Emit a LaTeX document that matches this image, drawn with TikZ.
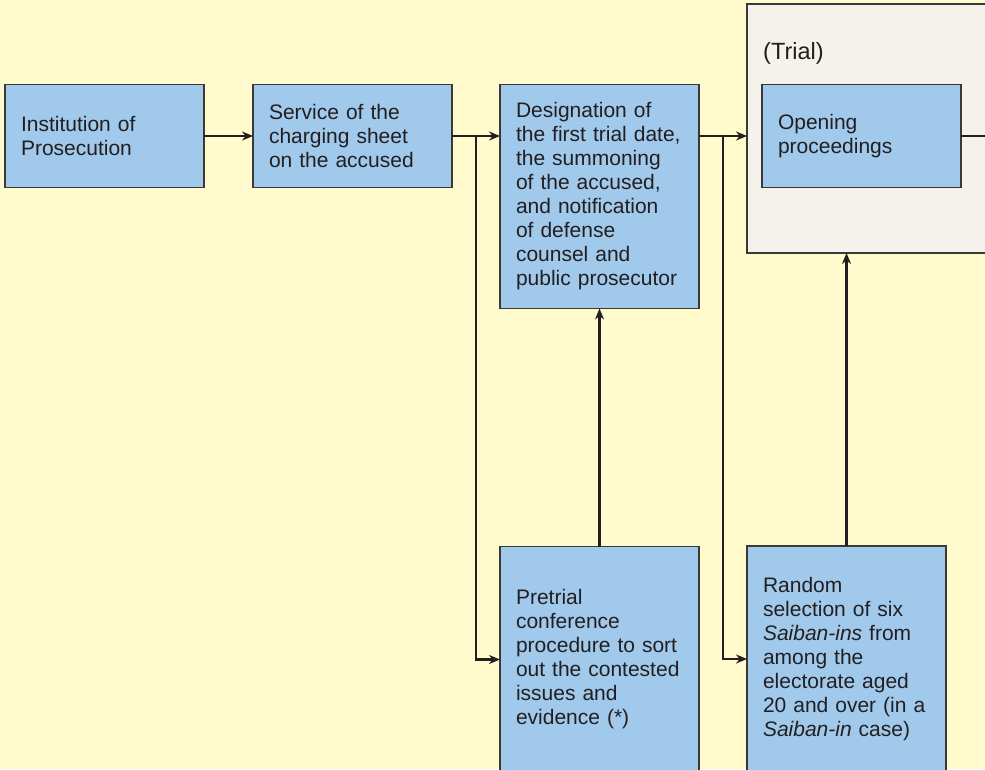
\documentclass[tikz,border=0pt]{standalone}
\usepackage{fontspec}
\setmainfont{Liberation Sans}
\usetikzlibrary{positioning,calc,arrows.meta}
\definecolor{bgYellow}{RGB}{255,251,205}
\definecolor{boxBlue}{RGB}{160,201,236}
\definecolor{trialGray}{RGB}{245,242,235}
\definecolor{edgeGray}{RGB}{60,56,54}
\definecolor{inkDark}{RGB}{35,31,32}

\begin{document}
\begin{tikzpicture}[x=1pt, y=-1pt, font=\fontsize{21}{24}\selectfont, text=inkDark]
    % Define styles
    \tikzstyle{stepbox} = [rectangle, draw=edgeGray, line width=1.2pt, fill=boxBlue, text width=167pt, inner xsep=16pt, inner ysep=0pt, align=left, minimum height=103pt, outer sep=0pt]
    \tikzstyle{stagebox} = [rectangle, draw=edgeGray, line width=1.2pt, fill=trialGray, minimum width=245pt, minimum height=249pt, inner sep=0pt, outer sep=0pt]
    \tikzstyle{arrow} = [draw=inkDark, line width=2.6pt, -{Stealth[length=11pt, width=9pt]}]
    \tikzstyle{line} = [draw=inkDark, line width=2.6pt]

    % Background
    \fill[bgYellow] (0,0) rectangle (985,769);
    \useasboundingbox (0,0) rectangle (985,769);

    % Top row
    \node [stepbox] (institution) at (104.5,136) {Institution of\\Prosecution};
    \node [stepbox, right=49pt of institution] (service) {Service of the\\charging sheet\\on the accused};
    \node [stepbox, minimum height=224pt, right=48pt of service.north east, anchor=north west] (designation) {Designation of\\the first trial date,\\the summoning\\of the accused,\\and notification\\of defense\\counsel and\\public prosecutor};

    % Trial stage
    \node [stagebox, anchor=north west] (trial) at (747,4) {};
    \node [anchor=west, inner sep=0pt, font=\fontsize{23.5}{28}\selectfont] (triallabel) at ([xshift=16pt,yshift=-49pt]trial.north west) {(Trial)};
    \node [stepbox, anchor=west] (opening) at ([xshift=15pt]trial.west |- institution) {Opening\\proceedings};

    % Bottom row
    \node [stepbox, minimum height=226pt, below=238pt of designation] (pretrial) {Pretrial\\conference\\procedure to sort\\out the contested\\issues and\\evidence (*)};
    \node [stepbox, minimum height=226pt, below=293pt of trial.south west, anchor=north west] (selection) {Random\\selection of six\\\textit{Saiban-ins} from\\among the\\electorate aged\\20 and over (in a\\\textit{Saiban-in} case)};

    % Branch points
    \coordinate (split1) at ($(service.east)!0.5!(designation.west |- service.east)$);
    \coordinate (split2) at ($(designation.east |- opening.west)!0.5!(trial.west |- opening.west)$);

    % Arrows
    \draw [arrow] (institution) -- (service);
    \draw [arrow] (service) -- (designation.west |- service.east);
    \draw [arrow] (split1) |- (pretrial.west);
    \draw [arrow] (designation.east |- opening.west) -- (trial.west |- opening.west);
    \draw [arrow] (split2) |- (selection.west);
    \draw [arrow] (pretrial) -- (designation);
    \draw [arrow] (selection.north) -- (selection.north |- trial.south);
    \draw [line] (opening.east) -- (trial.east |- opening.east);
\end{tikzpicture}
\end{document}
